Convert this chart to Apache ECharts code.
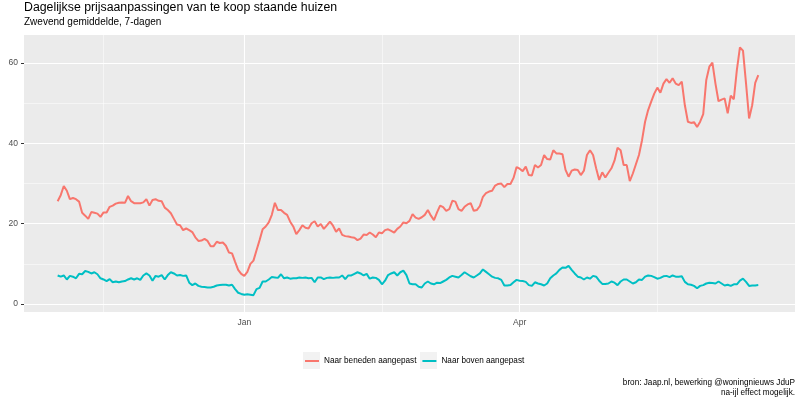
<!DOCTYPE html>
<html>
<head>
<meta charset="utf-8">
<script src="https://cdn.jsdelivr.net/npm/echarts@6.0.0/dist/echarts.min.js"></script>
<style>
  * { margin: 0; padding: 0; }
  body { background: #fff; }
</style>
</head>
<body>
<div id="main" style="width: 800px;height: 398px;"></div>
<script>
  // x-as loopt per dag
  var axisStart = '2021-10-21';
  var axisEnd = '2022-06-30';
  var dataStart = '2021-11-01';
  var xTickDates = ['2022-01-01', '2022-04-01'];
  var xTickLabels = ['Jan', 'Apr'];
  var xMinorDates = ['2021-11-16', '2022-02-15', '2022-05-16'];
  var yTicks = [0, 20, 40, 60];
  var yMinor = [10, 30, 50];
  var seriesNames = ['Naar beneden aangepast', 'Naar boven aangepast'];

  // 7-daags gemiddelde, vanaf 1 nov 2021
  var beneden = [
    25.6, 27.1, 29.4, 28.2, 26.1, 26.4, 26.1, 25.5, 22.7, 22.0, 21.2, 22.9, 22.7, 22.5, 21.7, 22.8, 22.8, 24.2, 24.5, 25.0,
    25.2, 25.3, 25.2, 26.9, 25.6, 25.1, 25.1, 25.1, 25.3, 26.1, 24.5, 25.9, 26.1, 25.7, 25.6, 24.0, 23.4, 22.6,
    21.2, 19.8, 19.6, 18.4, 18.8, 18.4, 17.9, 16.6, 15.7, 15.8, 16.2, 15.7, 14.4, 14.4, 15.5, 15.2, 15.3, 14.5, 12.8, 12.6,
    10.5, 8.5, 7.5, 7.0, 8.0, 10.0, 10.8, 13.4, 15.9, 18.6, 19.3, 20.3, 22.2, 25.2, 23.4, 23.4, 22.7, 22.2,
    20.5, 19.3, 17.4, 18.4, 19.6, 19.0, 18.8, 20.1, 20.6, 19.3, 19.9, 18.7, 19.6, 20.5, 19.5, 18.0, 18.8, 17.2, 16.9, 16.8,
    16.6, 16.5, 15.9, 16.3, 17.3, 17.2, 17.8, 17.3, 16.6, 17.8, 17.6, 18.4, 18.6, 18.2, 17.8, 18.7, 19.3, 20.3, 20.1, 20.7,
    22.4, 21.5, 21.2, 21.6, 22.2, 23.4, 22.0, 20.9, 22.8, 24.5, 24.1, 23.2, 23.6, 25.7, 25.5, 23.6, 23.2, 24.2, 24.8, 25.1,
    23.2, 23.4, 24.4, 26.7, 27.6, 28.0, 28.2, 29.5, 29.9, 30.0, 29.1, 29.9, 29.9, 31.4, 34.1, 33.7, 33.1, 34.2,
    32.1, 32.0, 34.6, 34.0, 34.6, 37.1, 36.1, 36.0, 38.3, 37.5, 37.5, 37.3, 33.4, 31.7, 33.2, 33.5, 33.4, 32.1, 33.2, 37.1,
    38.3, 37.1, 33.8, 30.9, 32.8, 31.5, 32.7, 33.8, 35.7, 38.9, 38.3, 34.6, 34.6, 30.6, 32.5, 34.8, 37.1, 40.8, 45.4,
    48.3, 50.4, 52.4, 53.9, 52.6, 54.9, 56.0, 55.1, 56.2, 54.9, 54.5, 55.4, 49.5, 45.4, 45.1, 45.3, 44.1, 45.4, 47.3, 55.8,
    59.1, 60.1, 54.9, 50.5, 50.9, 51.2, 47.5, 51.9, 51.0, 58.3, 63.9, 63.1, 54.9, 46.2, 49.5, 55.1, 57.0
  ];
  var boven = [
    7.1, 6.8, 7.1, 6.1, 7.0, 6.8, 6.4, 7.5, 7.4, 8.2, 8.0, 7.6, 7.9, 7.4, 6.4, 6.1, 5.7, 6.2, 5.4, 5.6,
    5.4, 5.6, 5.7, 6.1, 6.4, 6.1, 6.4, 6.0, 7.1, 7.6, 7.1, 5.8, 7.0, 6.8, 7.2, 6.1, 7.2, 7.9,
    7.6, 7.1, 7.2, 7.0, 7.1, 5.3, 4.7, 5.1, 4.5, 4.3, 4.2, 4.1, 4.1, 4.3, 4.6, 4.7, 4.8, 4.8, 4.6, 4.8,
    3.7, 2.8, 2.5, 2.3, 2.4, 2.3, 2.2, 3.7, 4.0, 5.6, 5.6, 6.1, 6.7, 6.6, 6.5, 7.4, 6.4, 6.6,
    6.3, 6.4, 6.4, 6.6, 6.5, 6.6, 6.4, 6.5, 5.4, 6.6, 6.6, 6.2, 6.5, 6.6, 6.5, 6.6, 6.6, 7.1, 6.2, 7.1,
    7.1, 7.5, 7.9, 7.6, 7.1, 7.5, 6.3, 6.6, 6.5, 6.0, 4.9, 5.8, 7.2, 7.6, 7.9, 7.1, 7.9, 8.3, 7.2, 5.1,
    4.9, 4.9, 4.3, 4.1, 5.1, 5.6, 5.1, 4.9, 5.3, 5.2, 5.6, 6.0, 6.6, 7.0, 6.8, 6.6, 7.2, 7.9, 7.4, 6.9,
    6.6, 7.1, 7.6, 8.6, 8.0, 7.4, 6.8, 6.5, 6.4, 6.0, 4.6, 4.6, 4.7, 5.4, 6.0, 5.8, 5.7, 5.5,
    4.7, 4.5, 5.4, 5.1, 4.9, 4.6, 5.1, 6.4, 7.1, 7.6, 8.5, 9.1, 9.0, 9.5, 8.5, 7.6, 6.8, 6.6, 6.1, 6.6,
    6.3, 7.0, 6.8, 5.8, 5.0, 5.0, 5.1, 5.6, 5.3, 4.7, 5.6, 6.1, 6.1, 5.6, 5.1, 5.4, 6.1, 6.0, 6.8,
    7.1, 7.0, 6.7, 6.3, 6.5, 6.9, 7.0, 6.7, 7.1, 6.8, 6.8, 6.9, 5.5, 4.9, 4.8, 4.5, 3.9, 4.5, 4.7, 5.1,
    5.3, 5.2, 5.1, 5.6, 5.1, 4.6, 4.8, 4.5, 4.9, 4.9, 5.8, 6.3, 5.5, 4.5, 4.6, 4.6, 4.7
  ];

  var font = '"Liberation Sans", Arial, sans-serif';

  function fmt(d) {
    return d.toISOString().slice(0, 10);
  }
  function days(from, n) {
    var out = [];
    var d = new Date(from + 'T00:00:00Z');
    for (var i = 0; i < n; i++) {
      out.push(fmt(d));
      d.setUTCDate(d.getUTCDate() + 1);
    }
    return out;
  }
  var nAxis = (Date.parse(axisEnd) - Date.parse(axisStart)) / 86400000 + 1;
  var categories = days(axisStart, nAxis);
  var dataDates = days(dataStart, beneden.length);
  function pairs(vals) {
    return vals.map(function (v, i) { return [dataDates[i], v]; });
  }

  var gridLines = [];
  yTicks.forEach(function (v) { gridLines.push({ yAxis: v, lineStyle: { width: 1.1 } }); });
  yMinor.forEach(function (v) { gridLines.push({ yAxis: v, lineStyle: { width: 0.5 } }); });
  xTickDates.forEach(function (v) { gridLines.push({ xAxis: v, lineStyle: { width: 1.1 } }); });
  xMinorDates.forEach(function (v) { gridLines.push({ xAxis: v, lineStyle: { width: 0.5 } }); });

  var chart = echarts.init(document.getElementById('main'));
  chart.setOption({
    animation: false,
    textStyle: { fontFamily: font },
    title: {
      text: 'Dagelijkse prijsaanpassingen van te koop staande huizen',
      subtext: 'Zwevend gemiddelde, 7-dagen',
      left: 24,
      top: 2,
      padding: 0,
      itemGap: 3,
      textStyle: { fontFamily: font, fontSize: 12.3, fontWeight: 'normal', color: '#000' },
      subtextStyle: { fontFamily: font, fontSize: 10, color: '#000' }
    },
    grid: {
      left: 24, right: 5, top: 35, bottom: 86,
      show: true, backgroundColor: '#EBEBEB', borderWidth: 0,
      outerBoundsMode: 'none'
    },
    legend: {
      data: seriesNames,
      left: 305,
      top: 357,
      padding: 0,
      icon: 'rect',
      itemWidth: 14,
      itemHeight: 2,
      itemGap: 6,
      textStyle: { fontFamily: font, fontSize: 8.2, color: '#000' }
    },
    graphic: [
      { type: 'rect', left: 303, top: 352, z: -1, shape: { width: 17, height: 17 }, style: { fill: '#F2F2F2' } },
      { type: 'rect', left: 420, top: 352, z: -1, shape: { width: 17, height: 17 }, style: { fill: '#F2F2F2' } },
      { type: 'text', right: 5, top: 379, style: { text: 'bron: Jaap.nl, bewerking @woningnieuws JduP', font: '8.2px ' + font, fill: '#000', textAlign: 'right' } },
      { type: 'text', right: 5, top: 389, style: { text: 'na-ijl effect mogelijk.', font: '8.2px ' + font, fill: '#000', textAlign: 'right' } }
    ],
    xAxis: {
      type: 'category',
      data: categories,
      boundaryGap: false,
      axisLine: { show: false },
      axisTick: {
        interval: function (i, v) { return xTickDates.indexOf(v) >= 0; },
        length: 3,
        lineStyle: { color: '#333' }
      },
      axisLabel: {
        interval: function (i, v) { return xTickDates.indexOf(v) >= 0; },
        formatter: function (v) { return xTickLabels[xTickDates.indexOf(v)]; },
        color: '#4D4D4D',
        fontSize: 8.5,
        margin: 6
      },
      splitLine: { show: false }
    },
    yAxis: {
      type: 'value',
      min: -2,
      max: 67,
      axisLine: { show: false },
      axisTick: { show: true, customValues: yTicks, length: 3, lineStyle: { color: '#333' } },
      axisLabel: { customValues: yTicks, color: '#4D4D4D', fontSize: 8.5, margin: 6 },
      splitLine: { show: false }
    },
    series: [
      {
        name: 'raster',
        type: 'line',
        data: [],
        z: 1,
        silent: true,
        markLine: {
          silent: true,
          symbol: 'none',
          z: 1,
          label: { show: false },
          lineStyle: { color: '#FFFFFF', type: 'solid' },
          data: gridLines
        }
      },
      {
        name: seriesNames[0],
        type: 'line',
        data: pairs(beneden),
        showSymbol: false,
        symbol: 'none',
        z: 3,
        color: '#F8766D',
        lineStyle: { width: 2, color: '#F8766D' }
      },
      {
        name: seriesNames[1],
        type: 'line',
        data: pairs(boven),
        showSymbol: false,
        symbol: 'none',
        z: 3,
        color: '#00BFC4',
        lineStyle: { width: 2, color: '#00BFC4' }
      }
    ]
  });
</script>
</body>
</html>
